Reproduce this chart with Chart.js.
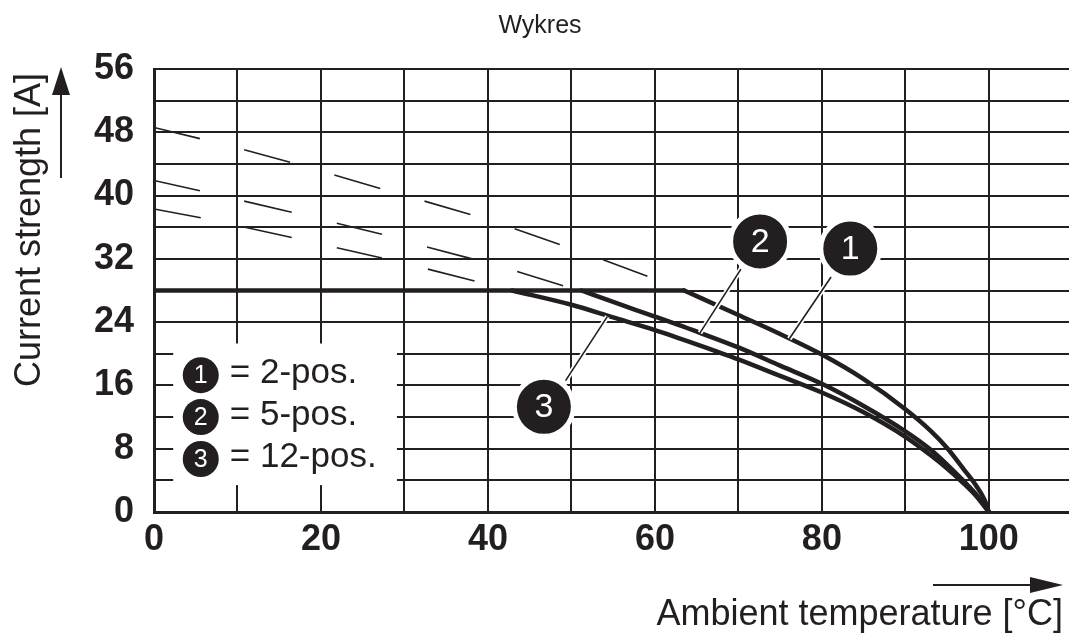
<!DOCTYPE html>
<html>
<head>
<meta charset="utf-8">
<title>Wykres</title>
<script src="https://cdn.jsdelivr.net/npm/chart.js@4.4.1/dist/chart.umd.min.js"></script>
<style>
  html, body { margin: 0; padding: 0; background: #fff; }
  #wrap { width: 1069px; height: 636px; }
</style>
</head>
<body>
<div id="wrap"><canvas id="derating" width="1069" height="636"></canvas></div>
<script>
// derating curves (x = ambient temp in C, y = current in A)
const plateauX = [0, 63.5];
const plateauY = [28, 28];
const curve1X = [63.5, 70, 75, 80, 85, 90, 93, 95, 97, 98.5, 99.5, 100];
const curve1Y = [28, 24.9, 22.5, 19.9, 16.8, 13.0, 10.3, 8.1, 5.4, 3.3, 1.5, 0];
const curve2X = [51.2, 55, 60, 65.4, 70, 75, 80, 85, 90, 93, 95, 97, 98.5, 100];
const curve2Y = [28, 26.55, 24.7, 22.65, 20.8, 18.5, 16.2, 13.4, 10.2, 7.9, 6.0, 3.9, 2.2, 0];
const curve3X = [42.9, 50, 55, 60, 65, 70, 75, 80, 85, 90, 93, 95, 97, 98.5, 100];
const curve3Y = [28, 26.2, 24.6, 23.0, 21.2, 19.3, 17.2, 15.1, 12.6, 9.5, 7.2, 5.5, 3.6, 2.0, 0];

// faint slanted strokes left in the background of the drawing [x1, y1, x2, y2]
const hatchSegments = [
  [0, 48.6, 5.5, 47.2], [10.8, 45.8, 16.3, 44.2], [0, 41.9, 5.5, 40.6],
  [21.6, 42.6, 27.1, 40.9], [0, 38.3, 5.6, 37.2], [10.8, 39.3, 16.5, 37.9],
  [32.4, 39.3, 37.9, 37.6], [10.9, 36.0, 16.5, 34.7], [21.9, 36.5, 27.3, 35.1],
  [43.2, 35.8, 48.6, 33.8], [21.9, 33.4, 27.3, 32.1], [32.7, 33.5, 38.1, 32.0],
  [53.8, 31.9, 59.1, 29.8], [32.8, 30.7, 38.4, 29.2], [43.5, 30.4, 49.0, 28.6]
];

// numbered callouts: circle centre and leader line to its curve
const calloutNames = ['1', '2', '3'];
const calloutX = [83.4, 72.6, 46.7];
const calloutY = [33.3, 34.2, 13.3];
const leaderFrom = [[81.1, 29.7], [70.3, 30.7], [49.3, 16.6]];
const leaderTo = [[76.1, 21.9], [65.4, 22.65], [54.3, 24.7]];

const legendNames = ['= 2-pos.', '= 5-pos.', '= 12-pos.'];

const xTicks = [0, 20, 40, 60, 80, 100];
const yTicks = [0, 8, 16, 24, 32, 40, 48, 56];

const INK = '#231f20';
const FONT = "'Liberation Sans', Arial, Helvetica, sans-serif";

function pts(xs, ys) {
  return xs.map((v, i) => ({ x: v, y: ys[i] }));
}

const datasets = [];
hatchSegments.forEach(s => {
  datasets.push({
    data: [{ x: s[0], y: s[1] }, { x: s[2], y: s[3] }],
    borderColor: INK, borderWidth: 1.6, pointRadius: 0, order: 10
  });
});
datasets.push({
  data: pts(plateauX, plateauY),
  borderColor: INK, borderWidth: 4.5, pointRadius: 0, borderCapStyle: 'round', order: 6
});
[[curve1X, curve1Y], [curve2X, curve2Y], [curve3X, curve3Y]].forEach(c => {
  datasets.push({
    data: pts(c[0], c[1]),
    borderColor: INK, borderWidth: 4.5, pointRadius: 0,
    cubicInterpolationMode: 'monotone', borderCapStyle: 'round', order: 6
  });
});
leaderFrom.forEach((f, i) => {
  const line = [{ x: f[0], y: f[1] }, { x: leaderTo[i][0], y: leaderTo[i][1] }];
  datasets.push({ data: line, borderColor: '#fff', borderWidth: 5, pointRadius: 0, order: 5 });
  datasets.push({ data: line, borderColor: INK, borderWidth: 1.6, pointRadius: 0, order: 4 });
});
datasets.push({
  data: pts(calloutX, calloutY), showLine: false,
  pointRadius: 29.5, backgroundColor: INK, borderColor: '#fff', borderWidth: 5, order: 1
});

const decor = {
  id: 'decor',
  beforeDatasetsDraw(chart) {
    const { ctx, scales: { x, y } } = chart;
    // white legend panel over the grid
    const l = x.getPixelForValue(2.3), r = x.getPixelForValue(29.1);
    const t = y.getPixelForValue(21.3), b = y.getPixelForValue(3.4);
    ctx.save();
    ctx.fillStyle = '#fff';
    ctx.fillRect(l, t, r - l, b - t);
    ctx.restore();
  },
  afterDatasetsDraw(chart) {
    const { ctx, scales: { x, y } } = chart;
    ctx.save();
    // callout digits
    ctx.fillStyle = '#fff';
    ctx.font = '34px ' + FONT;
    ctx.textAlign = 'center';
    ctx.textBaseline = 'middle';
    calloutNames.forEach((n, i) => {
      ctx.fillText(n, x.getPixelForValue(calloutX[i]), y.getPixelForValue(calloutY[i]) + 1);
    });
    // legend
    const rowsY = [17.3, 12.0, 6.7];
    legendNames.forEach((txt, i) => {
      const cx = x.getPixelForValue(5.6), cy = y.getPixelForValue(rowsY[i]);
      ctx.fillStyle = INK;
      ctx.beginPath();
      ctx.arc(cx, cy, 18, 0, Math.PI * 2);
      ctx.fill();
      ctx.fillStyle = '#fff';
      ctx.font = '25px ' + FONT;
      ctx.textAlign = 'center';
      ctx.textBaseline = 'middle';
      ctx.fillText(calloutNames[i], cx, cy + 1);
      ctx.fillStyle = INK;
      ctx.font = '35px ' + FONT;
      ctx.textAlign = 'left';
      ctx.textBaseline = 'alphabetic';
      ctx.fillText(txt, cx + 29, cy + 8);
    });
    ctx.restore();
  },
  afterDraw(chart) {
    const { ctx } = chart;
    ctx.save();
    ctx.fillStyle = INK;
    ctx.strokeStyle = INK;
    // title
    ctx.font = '25px ' + FONT;
    ctx.textAlign = 'center';
    ctx.textBaseline = 'alphabetic';
    ctx.fillText('Wykres', 540, 33);
    // x axis title + arrow
    ctx.font = '36px ' + FONT;
    ctx.textAlign = 'right';
    ctx.fillText('Ambient temperature [°C]', 1063, 625);
    ctx.lineWidth = 2;
    ctx.beginPath();
    ctx.moveTo(933, 585); ctx.lineTo(1035, 585);
    ctx.stroke();
    ctx.beginPath();
    ctx.moveTo(1063, 585); ctx.lineTo(1030, 577); ctx.lineTo(1030, 593); ctx.closePath();
    ctx.fill();
    // y axis title + arrow
    ctx.save();
    ctx.translate(40, 230);
    ctx.rotate(-Math.PI / 2);
    ctx.textAlign = 'center';
    ctx.fillText('Current strength [A]', 0, 0);
    ctx.restore();
    ctx.beginPath();
    ctx.moveTo(61, 178); ctx.lineTo(61, 90);
    ctx.stroke();
    ctx.beginPath();
    ctx.moveTo(61, 67); ctx.lineTo(52, 95); ctx.lineTo(70, 95); ctx.closePath();
    ctx.fill();
    ctx.restore();
  }
};

new Chart(document.getElementById('derating'), {
  type: 'line',
  data: { datasets: datasets },
  options: {
    responsive: false,
    animation: false,
    events: [],
    layout: { autoPadding: false, padding: { top: 69, left: 0, right: 0, bottom: 0 } },
    plugins: { legend: { display: false }, tooltip: { enabled: false }, title: { display: false } },
    scales: {
      x: {
        type: 'linear', min: 0, max: 109.6,
        afterFit: s => { s.height = 124; s.paddingLeft = 0; s.paddingRight = 0; },
        grid: { color: INK, lineWidth: 2, drawTicks: false },
        border: { color: INK, width: 3 },
        ticks: {
          stepSize: 10, autoSkip: false, maxRotation: 0, padding: 6, includeBounds: false,
          color: INK, font: { family: FONT, size: 36, weight: 'bold' },
          callback: v => xTicks.includes(v) ? String(v) : ''
        }
      },
      y: {
        type: 'linear', min: 0, max: 56,
        afterFit: s => { s.width = 154; s.paddingTop = 0; s.paddingBottom = 0; },
        grid: { color: INK, lineWidth: 2, drawTicks: false },
        border: { color: INK, width: 3 },
        ticks: {
          stepSize: 4, autoSkip: false, padding: 20,
          color: INK, font: { family: FONT, size: 36, weight: 'bold' },
          callback: v => yTicks.includes(v) ? String(v) : ''
        }
      }
    }
  },
  plugins: [decor]
});
</script>
</body>
</html>
